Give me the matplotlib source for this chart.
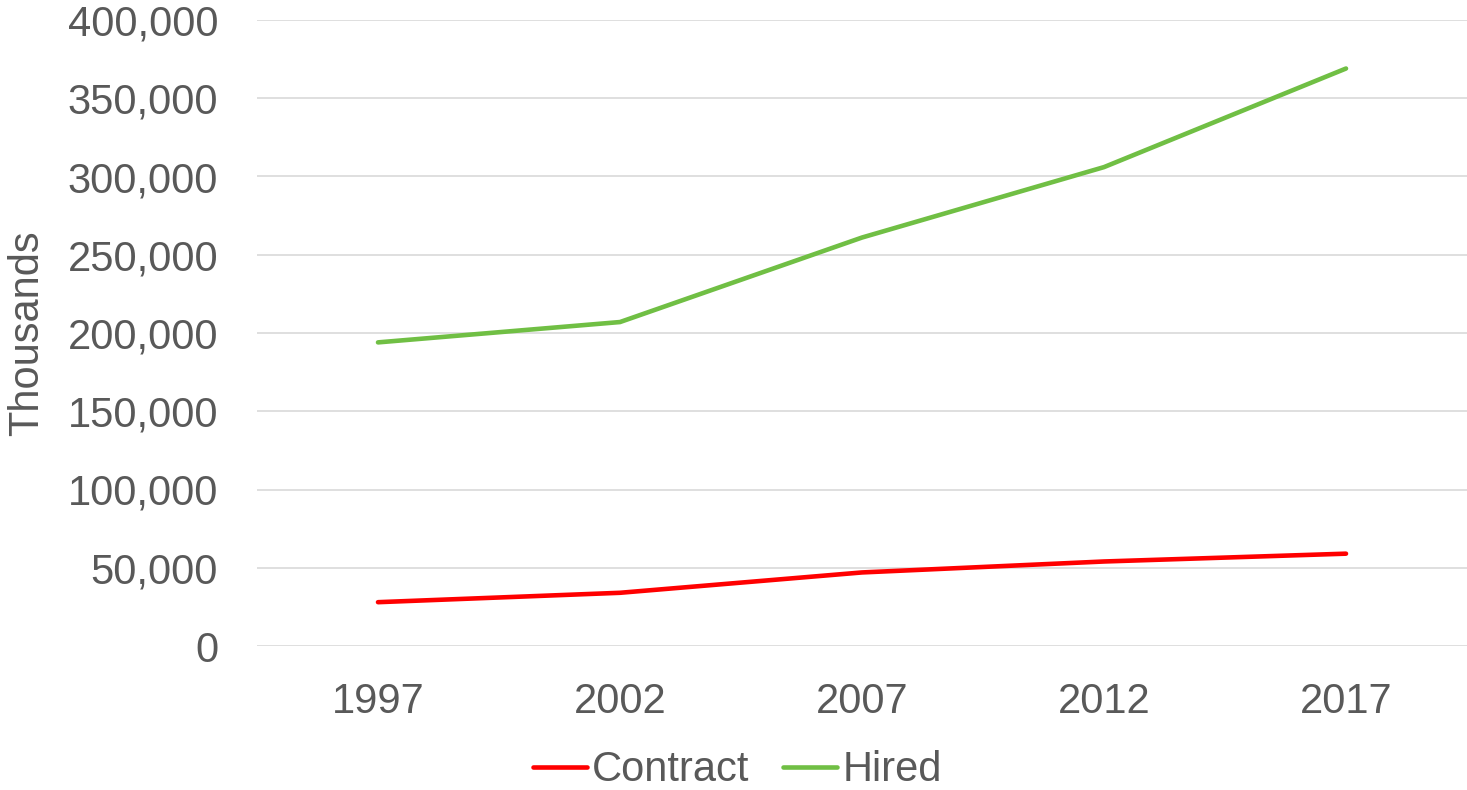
import matplotlib.pyplot as plt
from matplotlib.ticker import FuncFormatter

years = ["1997", "2002", "2007", "2012", "2017"]
contract = [28000, 34000, 47000, 54000, 59000]
hired = [194000, 207000, 261000, 306000, 369000]

plt.rcParams['font.family'] = ['Liberation Sans', 'DejaVu Sans']
grey = "#595959"

fig = plt.figure(figsize=(14.67, 7.9), dpi=100)
ax = fig.add_axes([257 / 1467, 1 - 646 / 790, 1 - 257 / 1467, (646 - 20) / 790])

x = range(len(years))
ax.plot(x, contract, color="#ff0000", lw=3.3, label="Contract", solid_capstyle="round")
ax.plot(x, hired, color="#70bf44", lw=3.3, label="Hired", solid_capstyle="round")

ax.set_xlim(-0.5, len(years) - 0.5)
ax.set_ylim(0, 400000)
ax.set_yticks(range(0, 400001, 50000))
ax.yaxis.set_major_formatter(FuncFormatter(lambda v, p: f"{int(v):,}"))
ax.set_xticks(list(x))
ax.set_xticklabels(years)

ax.grid(axis="y", color="#d9d9d9", lw=1.2)
ax.set_axisbelow(True)
for s in ax.spines.values():
    s.set_visible(False)
ax.tick_params(axis="both", length=0, labelsize=30, colors=grey)
ax.tick_params(axis="y", pad=28)
ax.tick_params(axis="x", pad=26)

ax.set_ylabel("Thousands", fontsize=30, color=grey)
ax.yaxis.set_label_coords(-210 / 1210, 0.5)

ax.legend(loc="upper center", bbox_to_anchor=(0.397, -0.14), ncol=2, frameon=False,
          fontsize=30, labelcolor=grey, handlelength=1.3, handletextpad=0.12,
          columnspacing=0.8, borderaxespad=0)

fig.savefig("out.png", dpi=100)
